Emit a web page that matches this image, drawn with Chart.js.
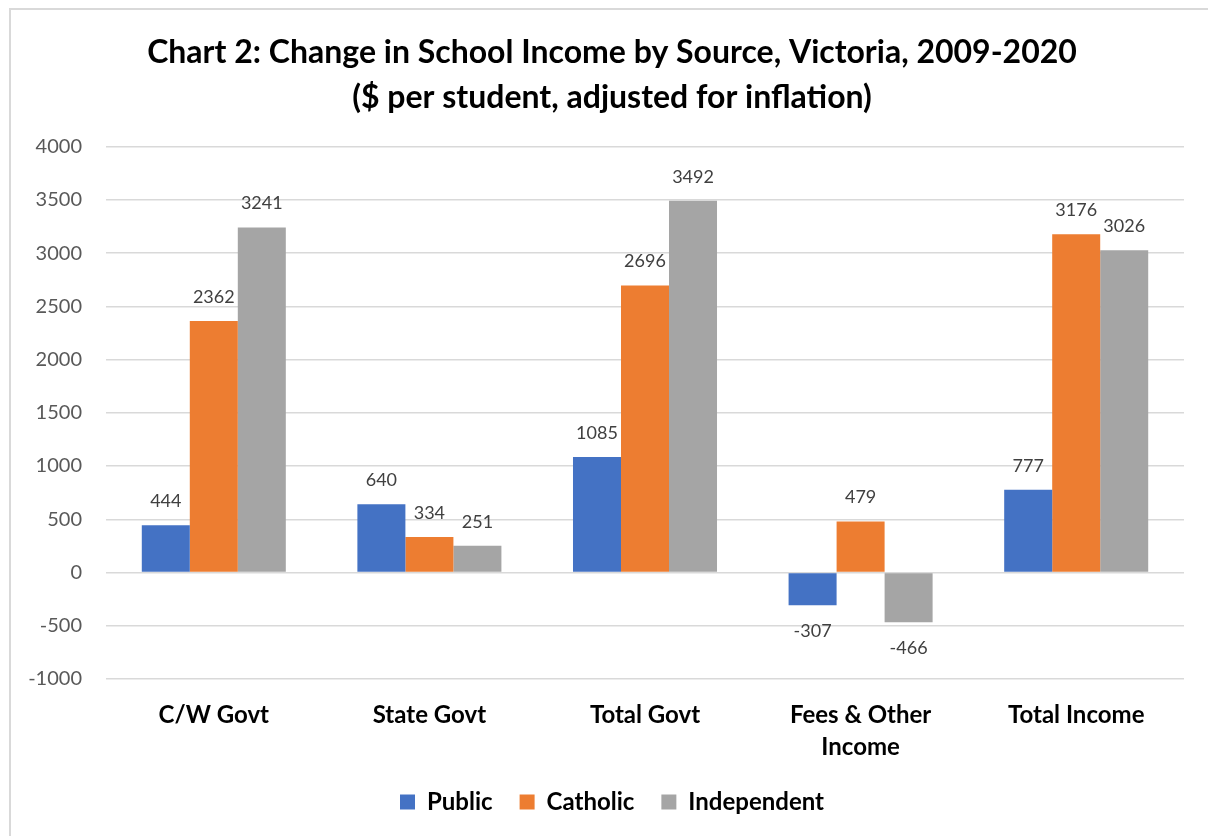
<!DOCTYPE html>
<html>
<head>
<meta charset="utf-8">
<script src="https://cdn.jsdelivr.net/npm/chart.js@4.4.0/dist/chart.umd.min.js"></script>
<style>
  html, body { margin: 0; padding: 0; background: #fff; overflow: hidden; }
  #frame { position: absolute; left: 9px; top: 8px; width: 1260px; height: 900px; border: 2px solid #d9d9d9; }
  #wrap { position: absolute; left: 0; top: 0; width: 1208px; height: 836px; }
</style>
</head>
<body>
<div id="frame"></div>
<div id="wrap"><canvas id="chart2"></canvas></div>
<script>
const categories = ['C/W Govt', 'State Govt', 'Total Govt', ['Fees & Other', 'Income'], 'Total Income'];
const publicValues = [444, 640, 1085, -307, 777];
const catholicValues = [2362, 334, 2696, 479, 3176];
const independentValues = [3241, 251, 3492, -466, 3026];
const yTicks = [-1000, -500, 0, 500, 1000, 1500, 2000, 2500, 3000, 3500, 4000];

const FONT = 'Lato, "Noto Sans", sans-serif';

// draws the value above (or below) each bar, like Excel's data labels
const barLabels = {
  id: 'barLabels',
  afterLayout(chart) {
    // let the y tick labels use the left margin too (otherwise they get clipped)
    chart.scales.y.left = 0;
  },
  afterDatasetsDraw(chart) {
    const { ctx } = chart;
    ctx.save();
    ctx.font = '18px ' + FONT;
    ctx.fillStyle = '#404040';
    ctx.textAlign = 'center';
    ctx.textBaseline = 'middle';
    chart.data.datasets.forEach((ds, i) => {
      chart.getDatasetMeta(i).data.forEach((bar, j) => {
        const v = ds.data[j];
        const y = v >= 0 ? bar.y - 24 : bar.y + 26;
        ctx.fillText(String(v), bar.x, y);
      });
    });
    ctx.restore();
  }
};

new Chart(document.getElementById('chart2'), {
  type: 'bar',
  data: {
    labels: categories,
    datasets: [
      { label: 'Public', data: publicValues, backgroundColor: '#4472C4' },
      { label: 'Catholic', data: catholicValues, backgroundColor: '#ED7D31' },
      { label: 'Independent', data: independentValues, backgroundColor: '#A5A5A5' }
    ]
  },
  options: {
    responsive: true,
    maintainAspectRatio: false,
    animation: false,
    layout: { padding: { top: 30, right: 24, bottom: 12, left: 40 } },
    datasets: { bar: { categoryPercentage: 0.668, barPercentage: 1 } },
    plugins: {
      title: {
        display: true,
        text: ['Chart 2: Change in School Income by Source, Victoria, 2009-2020', '($ per student, adjusted for inflation)'],
        color: '#000',
        font: { family: FONT, size: 32, weight: 'bold', lineHeight: 1.4 },
        padding: { top: 0, bottom: 27 }
      },
      legend: {
        position: 'bottom',
        labels: {
          color: '#000',
          font: { family: FONT, size: 24, weight: 'bold' },
          boxWidth: 15,
          boxHeight: 15,
          padding: 27
        }
      },
      tooltip: { enabled: false }
    },
    scales: {
      x: {
        grid: { display: false, drawTicks: false },
        border: { display: false },
        afterFit(scale) { scale.height = 84; },
        ticks: {
          color: '#000',
          font: { family: FONT, size: 24, weight: 'bold', lineHeight: 1.3 },
          padding: 21,
          maxRotation: 0
        }
      },
      y: {
        min: -1000,
        max: 4000,
        afterBuildTicks(scale) { scale.ticks = yTicks.map(v => ({ value: v })); },
        afterFit(scale) { scale.width = 66; },
        grid: { color: '#d9d9d9', lineWidth: 1.5, drawTicks: false },
        border: { display: false },
        ticks: {
          color: '#595959',
          font: { family: FONT, size: 20 },
          padding: 24,
          callback: v => String(v)
        }
      }
    }
  },
  plugins: [barLabels]
});
</script>
</body>
</html>
